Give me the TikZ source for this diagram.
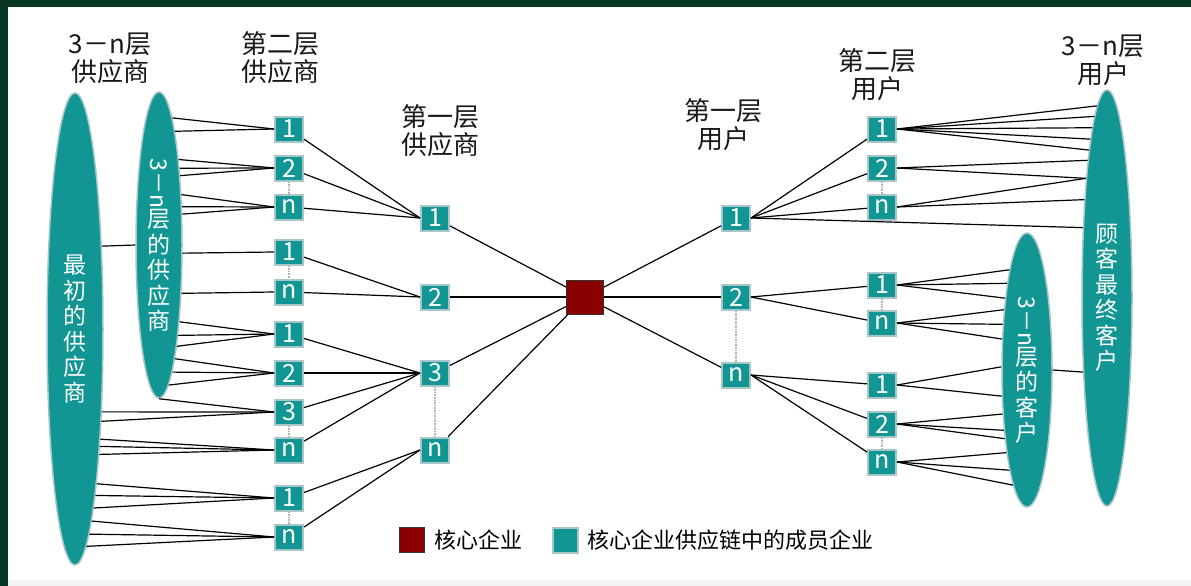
\documentclass[tikz,border=0pt]{standalone}
\usepackage{fontspec}
\setmainfont{Noto Sans CJK SC}
\usetikzlibrary{shapes.geometric}

\definecolor{tealbox}{RGB}{18,150,148}
\definecolor{tealedge}{RGB}{168,198,200}
\definecolor{coreRed}{RGB}{138,0,0}
\definecolor{frameGreen}{RGB}{8,56,36}

\tikzset{
  member/.style={draw=tealedge, line width=2pt, fill=tealbox, text=white,
    minimum width=28pt, minimum height=25pt, inner sep=0pt,
    font=\fontsize{25}{25}\selectfont},
  core/.style={draw=black!80, line width=1pt, fill=coreRed,
    minimum width=37pt, minimum height=34pt, inner sep=0pt},
  tier/.style={ellipse, draw=tealedge, line width=1.5pt, fill=tealbox,
    text=white, inner sep=0pt, align=center,
    font=\fontsize{23}{25.5}\selectfont},
  heading/.style={align=center, text=black!90, font=\fontsize{26}{28}\selectfont},
  gap/.style={densely dotted, line width=1.6pt, black!30},
  link/.style={line width=1.2pt}
}

% fan of lines from a node to points on an ellipse border
% #1 ellipse, #2 node, #3 centre y, #4 signed half width, #5 half height, #6 y list
\newcommand\fan[6]{%
  \foreach \yy in {#6}{%
    \pgfmathsetmacro\ang{atan2(#3-\yy,#4*sqrt(max(0,1-((#3-\yy)/#5)^2)))}%
    \draw[link] (#1.\ang) -- (#2);}}

\begin{document}
\begin{tikzpicture}[x=1pt,y=-1pt]
  \fill[frameGreen] (0,0) rectangle (1191,586);
  \fill[white] (8,7) rectangle (1191,586);
  \fill[black!5] (8,580) rectangle (1191,586);
  \useasboundingbox (0,0) rectangle (1191,586);

  % headings
  \node[heading] (hsu3) at (110,58) {3－n层\\供应商};
  \node[heading] (hsu2) at (280,58) {第二层\\供应商};
  \node[heading] (hsu1) at (440,131) {第一层\\供应商};
  \node[heading] (hcu1) at (723,125) {第一层\\用户};
  \node[heading] (hcu2) at (877,75) {第二层\\用户};
  \node[heading] (hcu3) at (1103,60) {3－n层\\用户};

  % outer tiers
  \node[tier, minimum width=56pt, minimum height=472pt] (ellA) at (75,329)
    {最\\初\\的\\供\\应\\商};
  \node[tier, minimum width=46pt, minimum height=306pt] (ellB) at (159,245)
    {\rotatebox{-90}{3－n}\\层\\的\\供\\应\\商};
  \node[tier, minimum width=50pt, minimum height=274pt] (ellC) at (1027,370)
    {\rotatebox{-90}{3－n}\\层\\的\\客\\户};
  \node[tier, minimum width=50pt, minimum height=416pt] (ellD) at (1107,298)
    {顾\\客\\最\\终\\客\\户};

  % second tier suppliers
  \node[member] (sua1) at (289,129) {1};
  \node[member] (sua2) at (289,168) {2};
  \node[member] (suan) at (289,207) {n};
  \node[member] (sub1) at (289,252) {1};
  \node[member] (subn) at (289,292) {n};
  \node[member] (suc1) at (289,334) {1};
  \node[member] (suc2) at (289,373) {2};
  \node[member] (suc3) at (289,412) {3};
  \node[member] (sucn) at (289,450) {n};
  \node[member] (sud1) at (289,498) {1};
  \node[member] (sudn) at (289,537) {n};

  % first tier suppliers
  \node[member] (su1) at (435,218) {1};
  \node[member] (su2) at (435,297) {2};
  \node[member] (su3) at (435,373) {3};
  \node[member] (sun) at (435,450) {n};

  \node[core] (core) at (585,297) {};

  % first tier users
  \node[member] (cu1) at (736,218) {1};
  \node[member] (cu2) at (736,297) {2};
  \node[member] (cun) at (736,375) {n};

  % second tier users
  \node[member] (cua1) at (882,129) {1};
  \node[member] (cua2) at (882,168) {2};
  \node[member] (cuan) at (882,207) {n};
  \node[member] (cub1) at (882,285) {1};
  \node[member] (cubn) at (882,323) {n};
  \node[member] (cuc1) at (882,385) {1};
  \node[member] (cuc2) at (882,424) {2};
  \node[member] (cucn) at (882,462) {n};

  % legend
  \node[core, minimum width=25pt, minimum height=25pt] (keycore) at (412,540) {};
  \node[anchor=west, font=\fontsize{22}{22}\selectfont] (keycoretxt) at (431,540) {核心企业};
  \node[member, minimum width=25pt, minimum height=25pt] (keymem) at (565,540) {};
  \node[anchor=west, font=\fontsize{22}{22}\selectfont] (keymemtxt) at (584,540) {核心企业供应链中的成员企业};

  % supplier side
  \fan{ellA}{ellB.west}{329}{28}{236}{245}
  \fan{ellB}{sua1.west}{245}{23}{153}{116,133}
  \fan{ellB}{sua2.west}{245}{23}{153}{157,168,177}
  \fan{ellB}{suan.west}{245}{23}{153}{194,207,215}
  \fan{ellB}{sub1.west}{245}{23}{153}{253}
  \fan{ellB}{subn.west}{245}{23}{153}{292}
  \fan{ellB}{suc1.west}{245}{23}{153}{323,337,347}
  \fan{ellB}{suc2.west}{245}{23}{153}{363,376,387}
  \fan{ellB}{suc3.west}{245}{23}{153}{398}
  \fan{ellA}{suc3.west}{329}{28}{236}{414,423}
  \fan{ellA}{sucn.west}{329}{28}{236}{437,448,457}
  \fan{ellA}{sud1.west}{329}{28}{236}{487,500,510}
  \fan{ellA}{sudn.west}{329}{28}{236}{527,540,552}

  \foreach \m in {a1,a2,an} \draw[link] (su\m) -- (su1.west);
  \foreach \m in {b1,bn} \draw[link] (su\m) -- (su2.west);
  \foreach \m in {c1,c2,c3,cn} \draw[link] (su\m) -- (su3.west);
  \foreach \m in {d1,dn} \draw[link] (su\m) -- (sun.west);
  \foreach \m in {su1,su2,su3,sun} \draw[link] (\m) -- (core);

  % user side
  \foreach \m in {cu1,cu2,cun} \draw[link] (core) -- (\m);
  \foreach \m in {a1,a2,an} \draw[link] (cu1.east) -- (cu\m);
  \foreach \m in {b1,bn} \draw[link] (cu2.east) -- (cu\m);
  \foreach \m in {c1,c2,cn} \draw[link] (cun.east) -- (cu\m);

  \fan{ellD}{cua1.east}{298}{-25}{208}{111,119,131,143,153}
  \fan{ellD}{cua2.east}{298}{-25}{208}{163,181}
  \fan{ellD}{cuan.east}{298}{-25}{208}{188,207}
  \fan{ellD}{cu1.east}{298}{-25}{208}{232}
  \fan{ellD}{ellC.east}{298}{-25}{208}{370}
  \fan{ellC}{cub1.east}{370}{-25}{137}{272,288,302}
  \fan{ellC}{cubn.east}{370}{-25}{137}{312,327,340}
  \fan{ellC}{cuc1.east}{370}{-25}{137}{367,395}
  \fan{ellC}{cuc2.east}{370}{-25}{137}{412,427,437}
  \fan{ellC}{cucn.east}{370}{-25}{137}{450,465,480}

  % gaps in the lists
  \draw[gap] (sua2.south) -- (suan.north);
  \draw[gap] (sub1.south) -- (subn.north);
  \draw[gap] (suc3.south) -- (sucn.north);
  \draw[gap] (sud1.south) -- (sudn.north);
  \draw[gap] (su3.south) -- (sun.north);
  \draw[gap] (cu2.south) -- (cun.north);
  \draw[gap] (cua2.south) -- (cuan.north);
  \draw[gap] (cub1.south) -- (cubn.north);
  \draw[gap] (cuc2.south) -- (cucn.north);
\end{tikzpicture}
\end{document}
